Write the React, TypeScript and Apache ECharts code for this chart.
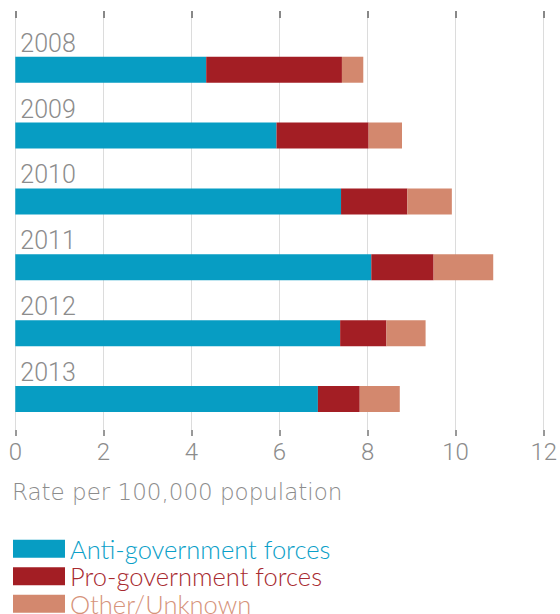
import React, { useEffect, useRef } from "react";
import * as echarts from "echarts";

const years = ["2008", "2009", "2010", "2011", "2012", "2013"];
const antiGovernment = [4.29, 5.87, 7.32, 8.0, 7.3, 6.8];
const proGovernment = [3.05, 2.07, 1.49, 1.4, 1.04, 0.94];
const otherUnknown = [0.48, 0.75, 1.0, 1.34, 0.88, 0.9];
const seriesNames = ["Anti-government forces", "Pro-government forces", "Other/Unknown"];
const axisTitle = "Rate per 100,000 population";

const COLORS = ["#079dc3", "#a31e24", "#d3886e"];
const TEXT_COLORS = ["#0aa0c8", "#a82a2f", "#d6937a"];
const GRAY = "#8c8c8c";

export default function App() {
  const ref = useRef<HTMLDivElement>(null);
  useEffect(() => {
    if (!ref.current) return;
    const chart = echarts.init(ref.current, null, { renderer: "svg" });
    const left = 15.3;
    const width = 534;
    const option: any = {
      animation: false,
      title: {
        text: axisTitle,
        left: 7,
        top: 475,
        textStyle: {
          fontFamily: "'DejaVu Sans'",
          fontWeight: 200,
          fontSize: 23,
          color: GRAY,
        },
      },
      legend: {
        orient: "vertical",
        left: 8,
        top: 530.8,
        height: 140,
        itemWidth: 52,
        itemHeight: 18,
        itemGap: 1.5,
        icon: "rect",
        textStyle: { fontFamily: "Lato", fontWeight: 300, fontSize: 25.5 },
        data: seriesNames.map((n, i) => ({ name: n, textStyle: { color: TEXT_COLORS[i] } })),
      },
      grid: [
        { left: left, width: width, top: 18, height: 412 },
        { left: left, width: width, top: 36.8, height: 395.2 },
      ],
      xAxis: [
        {
          gridIndex: 0,
          type: "value",
          position: "bottom",
          min: 0,
          max: 12,
          interval: 2,
          axisLine: { show: false },
          axisTick: { show: true, length: 6, lineStyle: { color: "#999", width: 2 } },
          axisLabel: {
            margin: 10,
            color: GRAY,
            fontFamily: "Roboto",
            fontWeight: 300,
            fontSize: 24,
          },
          splitLine: { show: true, lineStyle: { color: "#dcdcdc", width: 1 } },
        },
        {
          gridIndex: 0,
          type: "value",
          position: "top",
          min: 0,
          max: 12,
          interval: 2,
          axisLine: { show: false },
          axisTick: { show: true, length: 7, lineStyle: { color: "#888", width: 2 } },
          axisLabel: { show: false },
          splitLine: { show: false },
        },
        {
          gridIndex: 1,
          type: "value",
          min: 0,
          max: 12,
          show: false,
        },
      ],
      yAxis: [
        { gridIndex: 0, type: "value", min: 0, max: 1, show: false },
        { gridIndex: 1, type: "category", data: years, inverse: true, show: false },
      ],
      series: [
        {
          name: seriesNames[0],
          type: "bar",
          stack: "total",
          xAxisIndex: 2,
          yAxisIndex: 1,
          barWidth: 26,
          itemStyle: { color: COLORS[0] },
          label: {
            show: true,
            formatter: "{b}",
            position: [5, -13.5],
            align: "left",
            verticalAlign: "middle",
            color: GRAY,
            fontFamily: "Roboto",
            fontWeight: 300,
            fontSize: 25,
          },
          data: antiGovernment,
        },
        {
          name: seriesNames[1],
          type: "bar",
          stack: "total",
          xAxisIndex: 2,
          yAxisIndex: 1,
          barWidth: 26,
          itemStyle: { color: COLORS[1] },
          data: proGovernment,
        },
        {
          name: seriesNames[2],
          type: "bar",
          stack: "total",
          xAxisIndex: 2,
          yAxisIndex: 1,
          barWidth: 26,
          itemStyle: { color: COLORS[2] },
          data: otherUnknown,
        },
      ],
    };
    chart.setOption(option);
    return () => chart.dispose();
  }, []);
  return <div ref={ref} style={{ width: 560, height: 614, position: "absolute", left: 0, top: 0 }} />;
}
